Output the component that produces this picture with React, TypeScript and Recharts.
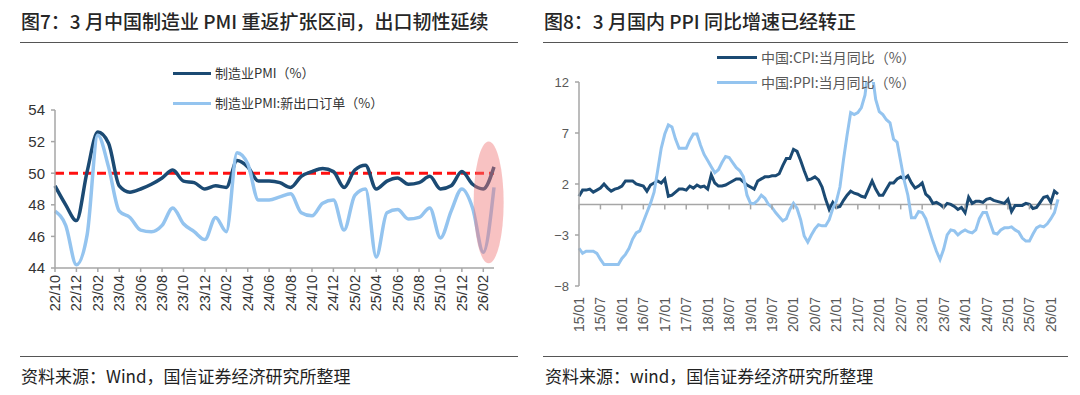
import React from 'react';
import { LineChart, Line, XAxis, YAxis, ReferenceLine, ReferenceArea, ReferenceDot } from 'recharts';

// ---------- Figure 7: PMI ----------
const pmiMonths = [
  '22/10', '22/11', '22/12',
  '23/01', '23/02', '23/03', '23/04', '23/05', '23/06', '23/07', '23/08', '23/09', '23/10', '23/11', '23/12',
  '24/01', '24/02', '24/03', '24/04', '24/05', '24/06', '24/07', '24/08', '24/09', '24/10', '24/11', '24/12',
  '25/01', '25/02', '25/03', '25/04', '25/05', '25/06', '25/07', '25/08', '25/09', '25/10', '25/11', '25/12',
  '26/01', '26/02', '26/03',
];
const pmiValues = [
  49.2, 48.0, 47.0,
  50.1, 52.6, 51.9, 49.2, 48.8, 49.0, 49.3, 49.7, 50.2, 49.5, 49.4, 49.0,
  49.2, 49.1, 50.8, 50.4, 49.5, 49.5, 49.4, 49.1, 49.8, 50.1, 50.3, 50.1,
  49.1, 50.2, 50.5, 49.0, 49.5, 49.7, 49.3, 49.4, 49.8, 49.0, 49.2, 50.1,
  49.3, 49.0, 50.4,
];
const exportOrderValues = [
  47.6, 46.7, 44.2,
  46.1, 52.4, 50.4, 47.6, 47.2, 46.4, 46.3, 46.7, 47.8, 46.8, 46.3, 45.8,
  47.2, 46.3, 51.3, 50.6, 48.3, 48.3, 48.5, 48.7, 47.5, 47.3, 48.1, 48.3,
  46.4, 48.6, 49.0, 44.7, 47.5, 47.7, 47.1, 47.2, 47.8, 45.9, 47.6, 49.0,
  47.8, 45.0, 49.1,
];
const pmiTicks = [44, 46, 48, 50, 52, 54];
const pmiThreshold = 50;
const highlightFrom = '26/02';
const highlightTo = '26/03';
const highlightLow = 44.3;
const highlightHigh = 52.0;

// ---------- Figure 8: CPI / PPI ----------
const cpYears = ['15', '16', '17', '18', '19', '20', '21', '22', '23', '24', '25', '26'];
const monthCodes = ['01', '02', '03', '04', '05', '06', '07', '08', '09', '10', '11', '12'];
const cpiValues = [
  0.8, 1.4, 1.4, 1.5, 1.2, 1.4, 1.6, 2.0, 1.6, 1.3, 1.5, 1.6,
  1.8, 2.3, 2.3, 2.3, 2.0, 1.9, 1.8, 1.3, 1.9, 2.1, 2.3, 2.1,
  2.5, 0.8, 0.9, 1.2, 1.5, 1.5, 1.4, 1.8, 1.6, 1.9, 1.7, 1.8,
  1.5, 2.9, 2.1, 1.8, 1.8, 1.9, 2.1, 2.3, 2.5, 2.5, 2.2, 1.9,
  1.7, 1.5, 2.3, 2.5, 2.7, 2.7, 2.8, 2.8, 3.0, 3.8, 4.5, 4.5,
  5.4, 5.2, 4.3, 3.3, 2.4, 2.5, 2.7, 2.4, 1.7, 0.5, -0.5, 0.2,
  -0.3, -0.2, 0.4, 0.9, 1.3, 1.1, 1.0, 0.8, 0.7, 1.5, 2.3, 1.5,
  0.9, 0.9, 1.5, 2.1, 2.1, 2.5, 2.7, 2.5, 2.8, 2.1, 1.6, 1.8,
  2.1, 1.0, 0.7, 0.1, 0.2, 0.0, -0.3, 0.1, 0.0, -0.2, -0.5, -0.3,
  -0.8, 0.7, 0.1, 0.3, 0.3, 0.2, 0.5, 0.6, 0.4, 0.3, 0.2, 0.1,
  0.5, -0.7, -0.1, -0.1, -0.1, 0.1, 0.0, -0.4, -0.3, 0.2, 0.7, 0.8,
  0.2, 1.3, 1.0,
];
const ppiValues = [
  -4.3, -4.8, -4.6, -4.6, -4.6, -4.8, -5.4, -5.9, -5.9, -5.9, -5.9, -5.9,
  -5.3, -4.9, -4.3, -3.4, -2.8, -2.6, -1.7, -0.8, 0.1, 1.2, 3.3, 5.5,
  6.9, 7.8, 7.6, 6.4, 5.5, 5.5, 5.5, 6.3, 6.9, 6.9, 5.8, 4.9,
  4.3, 3.7, 3.1, 3.4, 4.1, 4.7, 4.6, 4.1, 3.6, 3.3, 2.7, 0.9,
  0.1, 0.1, 0.4, 0.9, 0.6, 0.0, -0.3, -0.8, -1.2, -1.6, -1.4, -0.5,
  0.1, -0.4, -1.5, -3.1, -3.7, -3.0, -2.4, -2.0, -2.1, -2.1, -1.5, -0.4,
  0.3, 1.7, 4.4, 6.8, 9.0, 8.8, 9.0, 9.5, 10.7, 13.5, 12.9, 10.3,
  9.1, 8.8, 8.3, 8.0, 6.4, 6.1, 4.2, 2.3, 0.9, -1.3, -1.3, -0.7,
  -0.8, -1.4, -2.5, -3.6, -4.6, -5.4, -4.4, -3.0, -2.5, -2.6, -3.0, -2.7,
  -2.5, -2.7, -2.8, -2.5, -1.4, -0.8, -0.8, -1.8, -2.8, -2.9, -2.5, -2.3,
  -2.3, -2.2, -2.5, -2.7, -3.3, -3.6, -3.6, -2.9, -2.3, -2.1, -2.2, -1.9,
  -1.4, -0.8, 0.5,
];
const cpMonths = cpYears.flatMap((y) => monthCodes.map((m) => `${y}/${m}`)).slice(0, cpiValues.length);
const cpTicks = [-8, -3, 2, 7, 12];
const cpTickLabels = cpMonths.filter((_, i) => i % 6 === 0);

const pmiData = pmiMonths.map((m, i) => ({ m, pmi: pmiValues[i], exp: exportOrderValues[i] }));
const cpData = cpMonths.map((m, i) => ({ m, cpi: cpiValues[i], ppi: ppiValues[i] }));

const DARK = '#1B4A73';
const LIGHT = '#94C4EF';
const CJK = '"Noto Sans CJK SC", sans-serif';
const NUM = '"Liberation Sans", Arial, sans-serif';

const minusFmt = (v: number) => (v < 0 ? `\u2212${Math.abs(v)}` : `${v}`);

function vTick(props: any, fontSize: number, fill: string) {
  const { x, y, payload } = props;
  return (
    <text
      x={x}
      y={y}
      transform={`rotate(-90 ${x} ${y})`}
      textAnchor="end"
      dominantBaseline="central"
      fontSize={fontSize}
      fill={fill}
      fontFamily={NUM}
    >
      {payload.value}
    </text>
  );
}

function EllipseShape(props: any) {
  const { x, y, width, height } = props;
  return (
    <ellipse
      cx={x + width / 2}
      cy={y + height / 2}
      rx={15}
      ry={height / 2}
      fill="#F07878"
      fillOpacity={0.45}
    />
  );
}

function ZeroTick(props: any) {
  const { cx, cy } = props;
  return <line x1={cx} y1={cy} x2={cx} y2={cy + 5} stroke="#A6A6A6" strokeWidth={1.5} />;
}

function LegendRow({ color, text, left, top, width, fontSize, textColor }: any) {
  return (
    <div style={{ position: 'absolute', left, top, display: 'flex', alignItems: 'center', whiteSpace: 'nowrap' }}>
      <div style={{ width, height: 0, borderTop: `3.5px solid ${color}`, marginRight: 4 }} />
      <span style={{ fontFamily: CJK, fontSize, color: textColor, lineHeight: '18px' }}>{text}</span>
    </div>
  );
}

export default function App() {
  const titleStyle: React.CSSProperties = {
    position: 'absolute',
    top: 9,
    fontFamily: CJK,
    fontSize: 19,
    fontWeight: 500,
    color: '#262626',
    whiteSpace: 'nowrap',
    lineHeight: '24px',
  };
  const sourceStyle: React.CSSProperties = {
    position: 'absolute',
    top: 365,
    fontFamily: CJK,
    fontSize: 17,
    color: '#222222',
    whiteSpace: 'nowrap',
    lineHeight: '22px',
  };
  const rule = (left: number, top: number, width: number): React.CSSProperties => ({
    position: 'absolute',
    left,
    top,
    width,
    height: 0,
    borderTop: '1.5px solid #555555',
  });

  return (
    <div style={{ position: 'absolute', left: 0, top: 0, width: 1080, height: 395, background: '#ffffff', overflow: 'hidden' }}>
      {/* Titles */}
      <div style={{ ...titleStyle, left: 21 }}>图7：3 月中国制造业 PMI 重返扩张区间，出口韧性延续</div>
      <div style={{ ...titleStyle, left: 544 }}>图8：3 月国内 PPI 同比增速已经转正</div>
      <div style={rule(20, 42, 498)} />
      <div style={rule(543, 42, 525)} />

      {/* Left chart */}
      <div style={{ position: 'absolute', left: 0, top: 0 }}>
        <LineChart width={540} height={340} data={pmiData} margin={{ top: 110, right: 46, bottom: 22, left: 15 }}>
          <XAxis
            dataKey="m"
            interval={1}
            height={50}
            stroke="#A6A6A6"
            strokeWidth={1.5}
            tickSize={4}
            tickMargin={3}
            tick={(p: any) => vTick(p, 14.5, '#333333')}
          />
          <YAxis
            domain={[44, 54]}
            ticks={pmiTicks}
            width={40}
            stroke="#A6A6A6"
            strokeWidth={1.5}
            tickSize={4}
            tickMargin={6}
            tick={{ fontSize: 15, fill: '#333333', fontFamily: NUM }}
          />
          <ReferenceLine y={pmiThreshold} stroke="#FF1010" strokeWidth={3} strokeDasharray="9 5" />
          <Line dataKey="pmi" type="monotone" stroke={DARK} strokeWidth={3.5} dot={false} isAnimationActive={false} />
          <Line dataKey="exp" type="monotone" stroke={LIGHT} strokeWidth={3.5} dot={false} isAnimationActive={false} />
          <ReferenceArea
            x1={highlightFrom}
            x2={highlightTo}
            y1={highlightLow}
            y2={highlightHigh}
            shape={EllipseShape}
            {...({ zIndex: 1000 } as any)}
          />
        </LineChart>
      </div>
      <LegendRow color={DARK} text="制造业PMI（%）" left={173} top={64} width={38} fontSize={13} textColor="#333333" />
      <LegendRow color={LIGHT} text="制造业PMI:新出口订单（%）" left={173} top={94} width={38} fontSize={13} textColor="#333333" />

      {/* Right chart */}
      <div style={{ position: 'absolute', left: 540, top: 0 }}>
        <LineChart width={540} height={350} data={cpData} margin={{ top: 82, right: 22, bottom: 14, left: 4 }}>
          <XAxis
            dataKey="m"
            interval={5}
            height={50}
            axisLine={false}
            tickLine={false}
            tickSize={0}
            tickMargin={11}
            tick={(p: any) => vTick(p, 14, '#595959')}
          />
          <YAxis
            domain={[-8, 12]}
            ticks={cpTicks}
            allowDataOverflow
            width={35}
            stroke="#A6A6A6"
            strokeWidth={1.5}
            tickSize={4}
            tickMargin={6}
            tickFormatter={minusFmt}
            tick={{ fontSize: 13, fill: '#595959', fontFamily: NUM }}
          />
          <ReferenceLine y={0} stroke="#A6A6A6" strokeWidth={1.5} />
          {cpTickLabels.map((m) => (
            <ReferenceDot key={m} x={m} y={0} r={0} shape={ZeroTick} />
          ))}
          <Line dataKey="cpi" type="linear" stroke={DARK} strokeWidth={3} dot={false} isAnimationActive={false} />
          <Line dataKey="ppi" type="linear" stroke={LIGHT} strokeWidth={3} dot={false} isAnimationActive={false} />
        </LineChart>
      </div>
      <LegendRow color={DARK} text="中国:CPI:当月同比（%）" left={717} top={48} width={40} fontSize={14} textColor="#595959" />
      <LegendRow color={LIGHT} text="中国:PPI:当月同比（%）" left={717} top={73} width={40} fontSize={14} textColor="#595959" />

      {/* Bottom rules & sources */}
      <div style={rule(20, 356, 498)} />
      <div style={rule(543, 356, 525)} />
      <div style={{ ...sourceStyle, left: 21 }}>资料来源：Wind，国信证券经济研究所整理</div>
      <div style={{ ...sourceStyle, left: 545 }}>资料来源：wind，国信证券经济研究所整理</div>
    </div>
  );
}
